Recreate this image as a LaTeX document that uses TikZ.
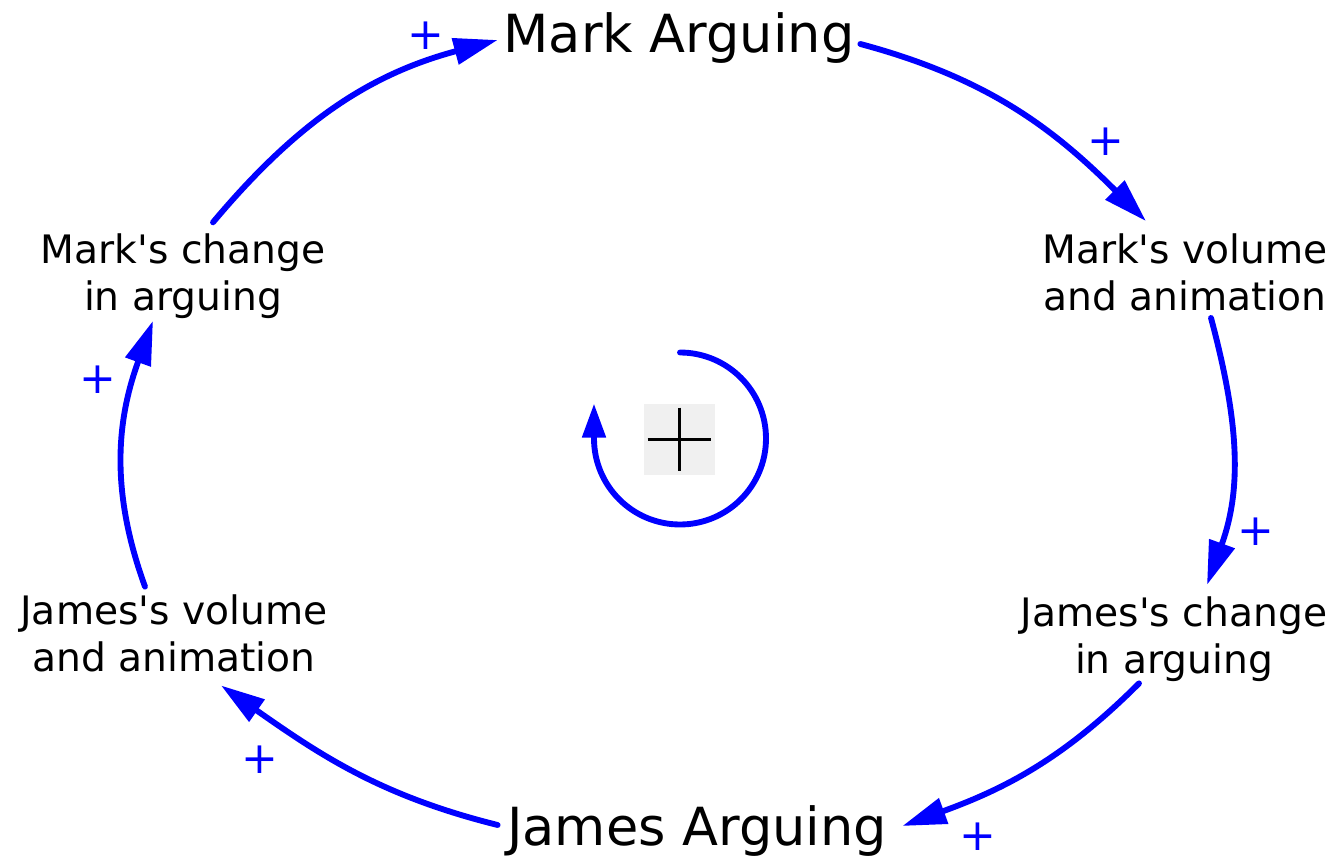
\documentclass[tikz,border=0pt]{standalone}
\usepackage{fontspec}
\setmainfont{DejaVu Sans}
\usetikzlibrary{arrows.meta}

\begin{document}
\begin{tikzpicture}[
  x=0.75pt, y=0.75pt,
  stock/.style={inner sep=0pt, outer sep=0pt, font=\fontsize{39.4}{46}\selectfont},
  var/.style={inner sep=0pt, outer sep=0pt, align=center, font=\fontsize{29.4}{35.25}\selectfont},
  polarity/.style={text=blue, inner sep=0pt, font=\fontsize{33}{40}\selectfont},
  linkarrow/.style={draw=blue, line width=4.4pt, line cap=round, -{Triangle[length=33pt, width=19.5pt]}},
  loopline/.style={draw=blue, line width=4.4pt, line cap=round, -{Triangle[length=25.5pt, width=17pt]}}
]
\useasboundingbox (0,0) rectangle (1336,-859);
% variables
\node[stock] (markarg) at (679,-38.5) {Mark Arguing};
\node[stock] (jamesarg) at (697,-831.5) {James Arguing};
\node[var] (mchange) at (183,-276.3) {Mark\textquotesingle s change\\in arguing};
\node[var] (mvolume) at (1185,-272.3) {Mark\textquotesingle s volume\\and animation};
\node[var] (jchange) at (1174,-638.9) {James\textquotesingle s change\\in arguing};
\node[var] (jvolume) at (174,-633.8) {James\textquotesingle s volume\\and animation};
% causal links
\draw[linkarrow] ([shift={(30,11.5)}]mchange.north) to[out=50, in=195] ([shift={(-6,-1.5)}]markarg.west);
\draw[linkarrow] ([shift={(6,-5.5)}]markarg.east) to[out=-15, in=135] ([shift={(-39,12.5)}]mvolume.north);
\draw[linkarrow] ([shift={(26,-7)}]mvolume.south) to[out=-75, in=70] ([shift={(33,11.5)}]jchange.north);
\draw[linkarrow] ([shift={(-35,-2)}]jchange.south) to[out=-135, in=20] ([shift={(15.5,5.5)}]jamesarg.east);
\draw[linkarrow] ([shift={(-9.5,6.5)}]jamesarg.west) to[out=166, in=-35] ([shift={(47,-13)}]jvolume.south);
\draw[linkarrow] ([shift={(-29,8.5)}]jvolume.north) to[out=110, in=-110] ([shift={(-30,-2)}]mchange.south);
% link polarities
\node[polarity] (p1) at (426,-36) {+};
\node[polarity] (p2) at (1106,-142) {+};
\node[polarity] (p3) at (1256,-532) {+};
\node[polarity] (p4) at (978,-837) {+};
\node[polarity] (p5) at (260,-760) {+};
\node[polarity] (p6) at (98,-380) {+};
% loop symbol
\node[fill=black!6, minimum size=53.25pt, inner sep=0pt] (loopsign) at (679.5,-439.5) {};
\draw[line width=2.7pt] ([shift={(4,0)}]loopsign.west) -- ([shift={(-4,0)}]loopsign.east);
\draw[line width=2.7pt] ([shift={(0,-4)}]loopsign.north) -- ([shift={(0,4)}]loopsign.south);
\draw[loopline] ([shift={(0.5,87)}]loopsign.center) arc[start angle=90, end angle=-180, radius=64.5pt] -- ++(0,35);
\end{tikzpicture}
\end{document}
